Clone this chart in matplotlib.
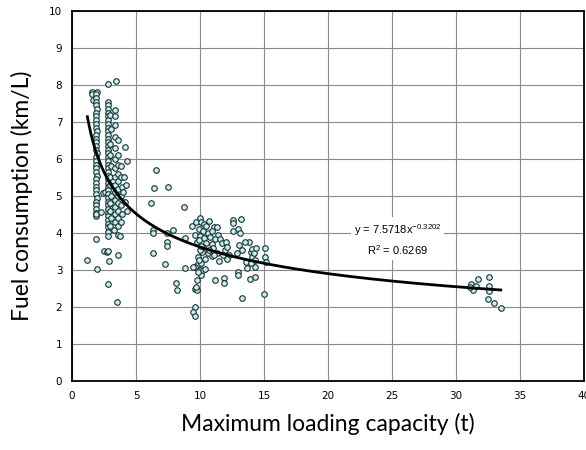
import numpy as np
import matplotlib
matplotlib.use('Agg')
import matplotlib.pyplot as plt

# sample points, one list pair per cluster
x_small = [1.60, 1.95, 1.60, 1.62,
           1.90, 1.91, 1.89, 1.90, 1.92, 1.90, 1.88, 1.91, 1.90, 1.89, 1.92, 1.90,
           1.88, 1.91, 1.90, 1.89, 1.92, 1.90, 1.88, 1.91, 1.90, 1.89, 1.92, 1.90,
           1.88, 1.91, 1.90, 1.89, 1.92, 1.90, 1.88, 1.91, 1.90, 1.89, 1.90,
           1.90, 1.15, 1.92, 2.30, 2.45, 2.58]
y_small = [7.82, 7.82, 7.75, 7.60,
           7.75, 7.65, 7.55, 7.45, 7.35, 7.25, 7.15, 7.05, 6.95, 6.85, 6.75, 6.65,
           6.55, 6.45, 6.35, 6.25, 6.15, 6.05, 5.95, 5.85, 5.75, 5.65, 5.55, 5.45,
           5.35, 5.25, 5.15, 5.05, 4.95, 4.85, 4.75, 4.65, 4.55, 4.45, 4.50,
           3.83, 3.27, 3.02, 4.57, 5.08, 5.12]

x_band = [2.84, 2.80, 2.82, 2.80, 2.78, 2.81, 2.80, 2.82, 2.79, 2.80, 2.83, 2.80,
          2.78, 2.81, 2.80, 2.82, 2.79, 2.80, 2.83, 2.80, 2.78, 2.81, 2.80, 2.82,
          2.79, 2.80, 2.83, 2.80, 2.78, 2.81, 2.80, 2.82, 2.79, 2.80, 2.83, 2.80,
          2.84, 2.80,
          3.00, 3.02, 2.98, 3.00, 3.02, 2.98, 3.00, 3.02, 2.98, 3.00, 3.02, 2.98,
          3.41, 3.35, 3.36, 3.34, 3.35, 3.36, 3.34, 3.35, 3.36, 3.34, 3.35, 3.36,
          3.34, 3.35, 3.36, 3.30,
          3.60, 3.58, 3.62, 3.60, 3.58, 3.62, 3.60, 3.58, 3.62, 3.60, 3.58, 3.62,
          3.85, 3.83, 3.87, 3.85, 3.83, 3.87, 3.85, 3.75,
          4.14, 4.27, 4.10, 4.20, 4.00, 4.15, 4.30,
          2.50, 2.70, 2.84, 3.57, 2.90, 2.84, 3.52]
y_band = [8.02, 7.55, 7.45, 7.35, 7.25, 7.15, 7.05, 6.95, 6.85, 6.75, 6.65, 6.55,
          6.45, 6.35, 6.25, 6.15, 6.05, 5.95, 5.85, 5.75, 5.65, 5.55, 5.45, 5.35,
          5.25, 5.15, 5.05, 4.95, 4.85, 4.75, 4.65, 4.55, 4.45, 4.35, 4.25, 4.15,
          4.04, 3.92,
          7.20, 6.80, 6.40, 6.10, 5.80, 5.50, 5.30, 5.00, 4.80, 4.60, 4.40, 4.20,
          8.10, 7.32, 7.15, 6.92, 6.60, 6.30, 6.00, 5.75, 5.50, 5.30, 5.10, 4.90,
          4.70, 4.50, 4.30, 4.08,
          6.50, 6.10, 5.85, 5.60, 5.40, 5.20, 5.00, 4.80, 4.60, 4.40, 4.20, 3.95,
          5.80, 5.50, 5.25, 5.00, 4.75, 4.50, 4.30, 3.92,
          6.33, 5.95, 5.50, 5.30, 5.10, 4.85, 4.60,
          3.51, 3.50, 3.51, 3.41, 3.24, 2.62, 2.13]

x_mid = [6.60, 6.40, 7.47, 6.17, 8.77, 7.90, 6.35, 6.35, 7.45, 7.40, 7.40, 8.80,
         6.30, 7.30, 8.85, 8.12, 8.18]
y_mid = [5.70, 5.22, 5.23, 4.80, 4.71, 4.08, 4.08, 3.99, 3.99, 3.77, 3.65, 3.86,
         3.45, 3.15, 3.06, 2.66, 2.46]

x_ten = [9.35, 9.70, 10.00, 10.10, 10.30, 10.50, 10.70, 11.10, 11.30, 9.90,
         10.20, 10.60, 10.90, 11.40, 9.60, 10.00, 10.30, 10.80, 11.20, 11.60,
         10.50, 11.70, 9.80, 10.90, 10.26, 11.00, 11.95, 10.13, 10.65, 10.90,
         11.30, 11.80, 9.87, 10.00, 10.40, 9.80, 9.60, 9.48, 10.00, 10.05,
         9.80, 10.26, 10.40, 10.10, 11.17, 11.90, 11.90, 9.60, 9.74, 9.70,
         9.85, 9.60, 9.48, 9.60, 12.00, 12.10, 12.30, 12.10, 11.50, 10.70,
         11.10, 9.95, 10.05, 9.92]
y_ten = [4.19, 4.31, 4.40, 4.31, 4.25, 4.20, 4.33, 4.17, 4.17, 4.10,
         4.05, 4.00, 4.05, 3.95, 3.95, 3.92, 3.86, 3.90, 3.85, 3.85,
         3.72, 3.72, 3.75, 3.70, 3.63, 3.60, 3.54, 3.49, 3.45, 3.38,
         3.47, 3.40, 3.36, 3.55, 3.30, 3.14, 3.07, 3.07, 3.00, 2.86,
         2.73, 3.00, 3.02, 3.20, 2.73, 2.79, 2.64, 2.50, 2.46, 2.55,
         2.95, 2.01, 1.87, 1.76, 3.75, 3.62, 3.40, 3.30, 3.25, 3.55,
         3.40, 3.80, 3.65, 3.28]

x_fourteen = [12.60, 12.60, 13.20, 13.00, 13.10, 13.07, 13.25, 13.80, 13.50, 14.00,
              14.10, 13.60, 14.30, 13.65, 13.90, 14.30, 13.00, 13.00, 14.10, 14.20,
              15.10, 15.10, 15.15, 14.00, 14.30, 15.00, 13.30, 12.60, 12.90, 14.40]
y_fourteen = [4.35, 4.26, 4.38, 4.12, 4.00, 3.68, 3.54, 3.77, 3.77, 3.50,
              3.34, 3.22, 3.27, 3.05, 2.77, 2.80, 2.95, 2.86, 3.56, 3.45,
              3.59, 3.34, 3.22, 3.18, 3.09, 2.35, 2.23, 4.05, 3.45, 3.60]

x_large = [31.2, 31.3, 31.75, 32.6, 32.6, 32.6, 32.5, 33.0, 33.5, 31.6, 31.1]
y_large = [2.61, 2.46, 2.75, 2.80, 2.57, 2.44, 2.22, 2.12, 1.98, 2.57, 2.55]

# power trend shown on the chart
coef_a = 7.5718
coef_b = -0.3202
trend_x = np.linspace(1.2, 33.5, 200)

plt.rcParams['mathtext.fontset'] = 'custom'
plt.rcParams['mathtext.rm'] = 'Liberation Sans'

fig = plt.figure(figsize=(5.86, 4.5), dpi=100)
ax = fig.add_axes([0.1229, 0.1533, 0.8737, 0.8223])

xs = x_small + x_band + x_mid + x_ten + x_fourteen + x_large
ys = y_small + y_band + y_mid + y_ten + y_fourteen + y_large
ax.scatter(xs, ys, s=16, facecolor='#c4f2f2', edgecolor='#1e2e2e',
           linewidths=0.8, zorder=3)
ax.plot(trend_x, coef_a * trend_x ** coef_b, color='black', lw=2.0, zorder=4)

ax.text(25.45, 3.82, 'y = 7.5718x$^{-0.3202}$\nR$^{2}$ = 0.6269',
        ha='center', va='center', multialignment='center',
        fontsize=8, family='Liberation Sans', linespacing=1.5,
        bbox=dict(facecolor='white', edgecolor='none', pad=2), zorder=5)

ax.set_xlim(0, 40)
ax.set_ylim(0, 10)
ax.set_xticks(np.arange(0, 41, 5))
ax.set_yticks(np.arange(0, 11, 1))
ax.grid(True, color='#8a8a8a', lw=0.8, zorder=0)
ax.set_axisbelow(True)
ax.tick_params(length=0, pad=7, labelsize=7.5)
for lab in ax.get_xticklabels() + ax.get_yticklabels():
    lab.set_family(['Liberation Sans Narrow', 'DejaVu Sans'])
for sp in ax.spines.values():
    sp.set_linewidth(1.3)
    sp.set_color('black')

ax.set_xlabel('Maximum loading capacity (t)', family='Lato', fontsize=16.5,
              labelpad=9)
ax.set_ylabel('Fuel consumption (km/L)', family='Lato', fontsize=16.5,
              labelpad=12)

fig.savefig('out.png', dpi=100)
